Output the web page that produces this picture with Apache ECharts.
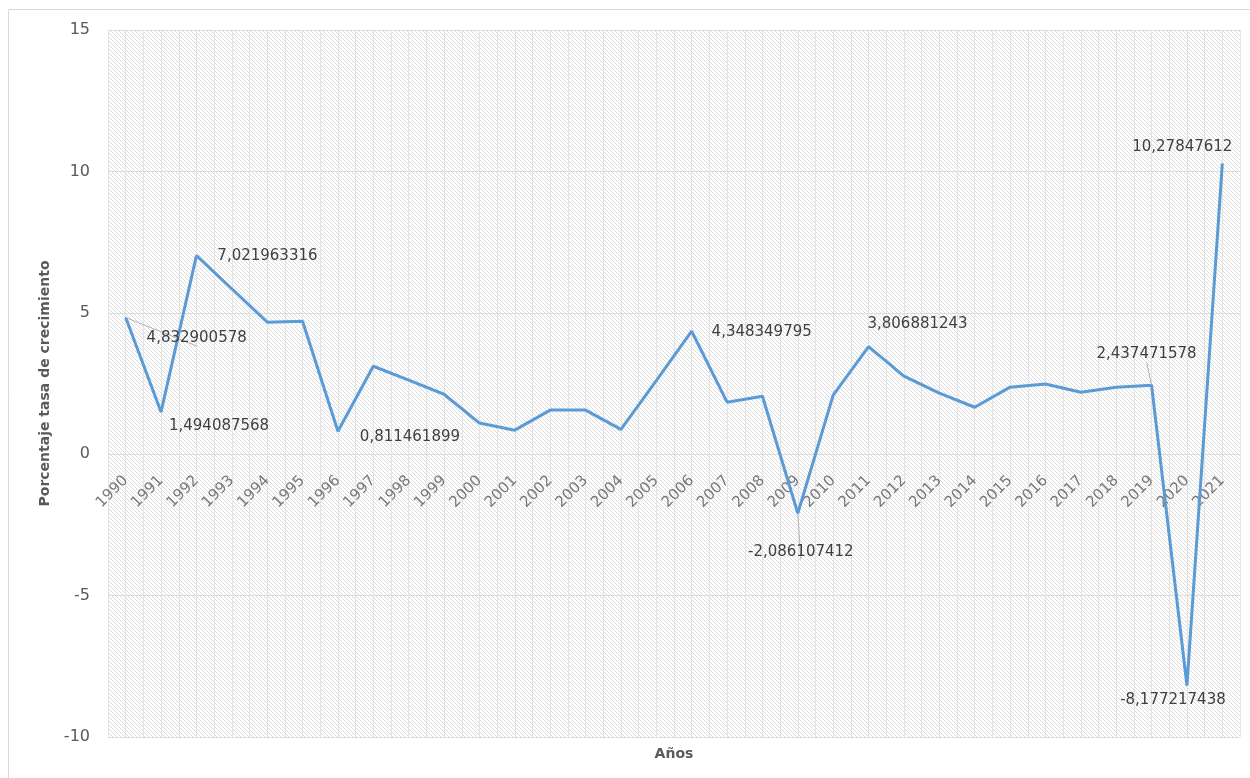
<!DOCTYPE html>
<html>
<head>
<meta charset="utf-8">
<script src="https://cdn.jsdelivr.net/npm/echarts@6/dist/echarts.min.js"></script>
<style>
  html, body { margin: 0; padding: 0; background: #ffffff; }
  #chart { width: 1250px; height: 778px; }
</style>
</head>
<body>
<div id="chart"></div>
<script>
// Annual growth rate (%), 1990-2021
const years = ['1990','1991','1992','1993','1994','1995','1996','1997','1998','1999',
  '2000','2001','2002','2003','2004','2005','2006','2007','2008','2009',
  '2010','2011','2012','2013','2014','2015','2016','2017','2018','2019','2020','2021'];

const growth = [4.832900578, 1.494087568, 7.021963316, 5.85, 4.67, 4.70, 0.811461899, 3.11, 2.62, 2.12,
  1.10, 0.85, 1.56, 1.56, 0.88, 2.60, 4.348349795, 1.84, 2.05, -2.086107412,
  2.09, 3.806881243, 2.76, 2.16, 1.66, 2.37, 2.48, 2.19, 2.37, 2.437471578, -8.177217438, 10.27847612];

// Years whose value is printed next to the line
const labelledYears = ['1990','1991','1992','1996','2006','2009','2011','2019','2020','2021'];

const yTicks = [-10, -5, 0, 5, 10, 15];

// Label placement (offset of label centre from the point) and leader lines
const labelPlacement = {
  '1990': { offset: [71, 21], leader: true },
  '1991': { offset: [58, 14] },
  '1992': { offset: [71, 0] },
  '1996': { offset: [72, 6] },
  '2006': { offset: [70, 1] },
  '2009': { offset: [3, 39], leader: true },
  '2011': { offset: [49, -22] },
  '2019': { offset: [-5, -31], leader: true },
  '2020': { offset: [-14, 15] },
  '2021': { offset: [-40, -16] }
};

// Diagonal hatch fill for the plot area
function hatchPattern() {
  const s = 4;
  const c = document.createElement('canvas');
  c.width = s; c.height = s;
  const ctx = c.getContext('2d');
  ctx.fillStyle = '#ffffff';
  ctx.fillRect(0, 0, s, s);
  ctx.strokeStyle = '#dcdcdc';
  ctx.lineWidth = 1;
  for (let k = -1; k <= 1; k++) {
    ctx.beginPath();
    ctx.moveTo(-1, -1 + k * s);
    ctx.lineTo(s + 1, s + 1 + k * s);
    ctx.stroke();
  }
  return { image: c, repeat: 'repeat' };
}

const fmt = v => String(v).replace('.', ',');

const seriesData = years.map((y, i) => {
  const item = { value: growth[i] };
  if (labelledYears.includes(y)) {
    const p = labelPlacement[y];
    item.label = { show: true, position: 'inside', offset: p.offset };
    item.labelLine = { show: !!p.leader };
  }
  return item;
});

// Year captions sit on the zero line, slanted at 45 degrees
const yearCaptionData = years.map(y => [y, 0]);

const plotBox = { left: 108, right: 10, top: 30, bottom: 41, outerBoundsMode: 'none', containLabel: false };

const chart = echarts.init(document.getElementById('chart'), null, { renderer: 'canvas' });

chart.setOption({
  backgroundColor: '#ffffff',
  animation: false,
  textStyle: { fontFamily: 'DejaVu Sans' },
  graphic: [{
    type: 'rect',
    left: 6, top: 7,
    shape: { width: 1260, height: 790 },
    style: { fill: 'none', stroke: '#d9d9d9', lineWidth: 1 },
    silent: true
  }],
  grid: [
    // background grid carrying the hatch and the vertical rulings
    Object.assign({ show: true, backgroundColor: hatchPattern(), borderWidth: 0 }, plotBox),
    // data grid
    Object.assign({ show: false }, plotBox)
  ],
  xAxis: [{
    type: 'value',
    gridIndex: 0,
    min: 0, max: years.length, interval: 0.5,
    position: 'bottom',
    axisLine: { show: false, onZero: false },
    axisTick: { show: false },
    axisLabel: { show: false },
    splitLine: { show: true, lineStyle: { color: '#e4e4e4', width: 1 } },
    name: 'Años',
    nameLocation: 'middle',
    nameGap: 10,
    nameTextStyle: { color: '#595959', fontSize: 14, fontWeight: 'bold', fontFamily: 'DejaVu Sans' }
  }, {
    type: 'category',
    gridIndex: 1,
    data: years,
    boundaryGap: true,
    axisLine: { show: false },
    axisTick: { show: false },
    splitLine: { show: false },
    axisLabel: { show: false }
  }],
  yAxis: [{
    type: 'value',
    gridIndex: 0,
    min: 0, max: 1,
    show: false
  }, {
    type: 'value',
    gridIndex: 1,
    min: yTicks[0], max: yTicks[yTicks.length - 1], interval: 5,
    axisLine: { show: false },
    axisTick: { show: false },
    splitLine: { show: true, lineStyle: { color: '#dcdcdc', width: 1 } },
    axisLabel: { color: '#595959', fontSize: 16, margin: 18, fontFamily: 'DejaVu Sans' },
    name: 'Porcentaje tasa de crecimiento',
    nameLocation: 'middle',
    nameGap: 56,
    nameTextStyle: { color: '#595959', fontSize: 14, fontWeight: 'bold', fontFamily: 'DejaVu Sans' }
  }],
  series: [{
    type: 'scatter',
    xAxisIndex: 1,
    yAxisIndex: 1,
    data: yearCaptionData,
    symbolSize: 0,
    silent: true,
    label: {
      show: true,
      position: [0, 24],
      rotate: 45,
      align: 'right',
      verticalAlign: 'middle',
      color: '#595959',
      fontSize: 15,
      fontFamily: 'DejaVu Sans',
      formatter: p => p.value[0]
    },
    z: 2
  }, {
    type: 'line',
    xAxisIndex: 1,
    yAxisIndex: 1,
    data: seriesData,
    symbol: 'circle',
    symbolSize: 1,
    showSymbol: true,
    itemStyle: { color: '#5b9bd5' },
    lineStyle: { color: '#5b9bd5', width: 3 },
    label: {
      show: false,
      color: '#404040',
      fontSize: 15,
      fontFamily: 'DejaVu Sans',
      formatter: p => fmt(p.value)
    },
    labelLine: { show: false, lineStyle: { color: '#b4b4b4', width: 1 } },
    z: 3
  }]
});
</script>
</body>
</html>
